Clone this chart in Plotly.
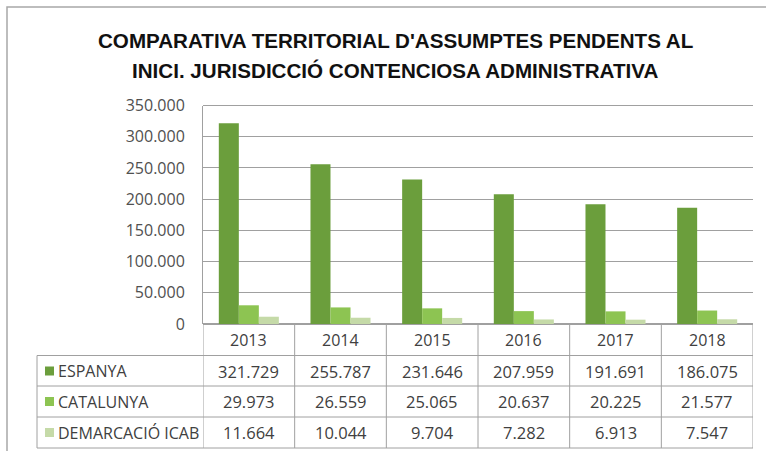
import plotly.graph_objects as go

W, H = 766, 451

years = ["2013", "2014", "2015", "2016", "2017", "2018"]
series_names = ["ESPANYA", "CATALUNYA", "DEMARCACIÓ ICAB"]
espanya = [321729, 255787, 231646, 207959, 191691, 186075]
catalunya = [29973, 26559, 25065, 20637, 20225, 21577]
demarcacio = [11664, 10044, 9704, 7282, 6913, 7547]
series_values = [espanya, catalunya, demarcacio]
colors = ["#6b9e3c", "#8dc452", "#c5daa8"]

title_lines = ["COMPARATIVA TERRITORIAL D'ASSUMPTES PENDENTS AL",
               "INICI. JURISDICCIÓ CONTENCIOSA ADMINISTRATIVA"]


def px(x):
    return x / W


def py(y):
    return 1 - y / H


def fmt(v):
    return f"{v:,}".replace(",", ".")


fig = go.Figure()
for name, vals, col in zip(series_names, series_values, colors):
    fig.add_trace(go.Bar(x=years, y=vals, name=name, marker=dict(color=col, line=dict(width=0))))

plot_l, plot_r, plot_t, plot_b = 203, 753, 105.5, 324
grid_col = "#a0a0a0"
text_col = "#404040"
font_main = "Open Sans, Liberation Sans, sans-serif"

fig.update_layout(
    width=W, height=H,
    margin=dict(l=0, r=0, t=0, b=0, autoexpand=False),
    paper_bgcolor="white", plot_bgcolor="white",
    showlegend=False,
    barmode="group", bargap=0.345, bargroupgap=0,
    separators=",.",
    xaxis=dict(type="category", domain=[px(plot_l), px(plot_r)], range=[-0.5, 5.5],
               showticklabels=False, automargin=False,
               showgrid=False, zeroline=False, showline=False, ticks=""),
    yaxis=dict(domain=[py(plot_b), py(plot_t)], range=[0, 350000], dtick=50000, automargin=False,
               tickformat=",.0f", showgrid=True, gridcolor=grid_col, gridwidth=1,
               zeroline=True, zerolinecolor=grid_col, showline=True, linecolor=grid_col,
               tickfont=dict(family=font_main, size=16, color="#505050"), ticks="",
               ticklabelstandoff=14),
)

shapes = []
# outer frame
shapes.append(dict(type="rect", xref="paper", yref="paper", x0=px(7), x1=1.02, y0=-0.05, y1=py(7),
                   line=dict(color="#a8a8a8", width=1.5), fillcolor="rgba(0,0,0,0)", layer="below"))
# top gridline
shapes.append(dict(type="line", xref="paper", yref="paper", x0=px(plot_l), x1=px(plot_r),
                   y0=py(plot_t), y1=py(plot_t), line=dict(color=grid_col, width=1)))
# table
row_lines = [355.5, 386, 417, 448]
for yy in row_lines:
    shapes.append(dict(type="line", xref="paper", yref="paper", x0=px(37), x1=px(plot_r),
                       y0=py(yy), y1=py(yy), line=dict(color=grid_col, width=1)))
shapes.append(dict(type="line", xref="paper", yref="paper", x0=px(37), x1=px(37),
                   y0=py(355.5), y1=py(448), line=dict(color=grid_col, width=1)))
for i in range(len(years) + 1):
    shapes.append(dict(type="line", xref="x", yref="paper", x0=i - 0.5, x1=i - 0.5,
                       y0=py(plot_b), y1=py(448), line=dict(color=grid_col, width=1)))

annotations = []
row_centers = [371, 401.5, 432.5]
for name, col, yc in zip(series_names, colors, row_centers):
    shapes.append(dict(type="rect", xref="paper", yref="paper", x0=px(45), x1=px(54),
                       y0=py(yc + 4.5), y1=py(yc - 4.5), fillcolor=col, line=dict(width=0)))
    annotations.append(dict(text=name, xref="paper", yref="paper", x=px(56), y=py(yc),
                            xanchor="left", yanchor="middle", showarrow=False,
                            font=dict(family=font_main, size=16, color=text_col)))
for i, yr in enumerate(years):
    annotations.append(dict(text=yr, xref="x", yref="paper", x=i, y=py(340),
                            xanchor="center", yanchor="middle", showarrow=False,
                            font=dict(family=font_main, size=16, color=text_col)))
    for vals, yc in zip(series_values, row_centers):
        annotations.append(dict(text=fmt(vals[i]), xref="x", yref="paper", x=i, y=py(yc),
                                xanchor="center", yanchor="middle", showarrow=False,
                                font=dict(family=font_main, size=16.5, color=text_col)))

title_font = "Liberation Sans, Arial, sans-serif"
for line, yc in zip(title_lines, [40.5, 70.5]):
    annotations.append(dict(text=f"<b>{line}</b>", xref="paper", yref="paper", x=px(395), y=py(yc),
                            xanchor="center", yanchor="middle", showarrow=False,
                            font=dict(family=title_font, size=20.6, color="#111111")))

fig.update_layout(shapes=shapes, annotations=annotations)
fig.write_html("out.html", config={"displayModeBar": False},
               post_script="document.body.style.margin='0';document.body.style.overflow='hidden';")
